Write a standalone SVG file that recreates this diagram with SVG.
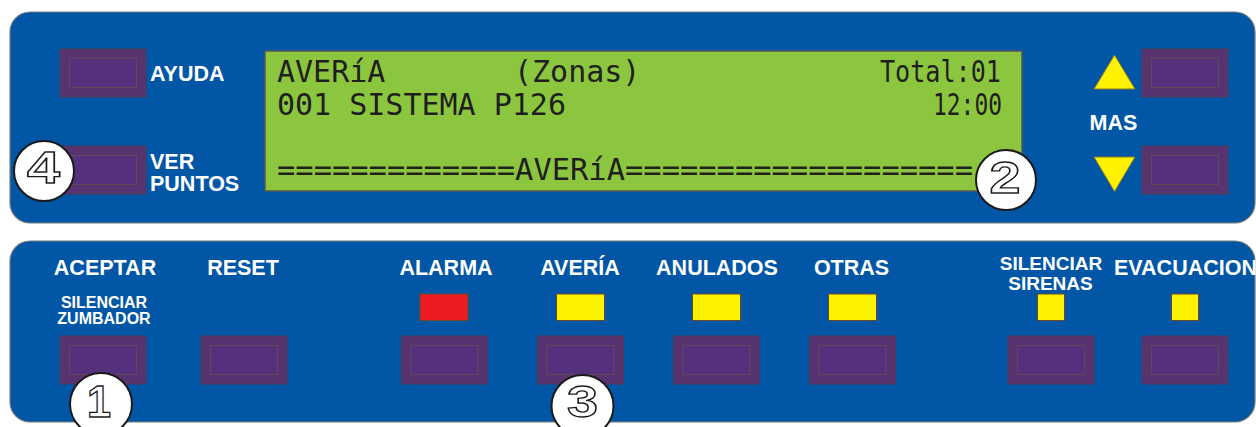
<svg xmlns="http://www.w3.org/2000/svg" width="1256" height="427" viewBox="0 0 1256 427">
<defs>
<style>
.panel{fill:#0156a6;stroke:#7a7a7a;stroke-width:1.2}
.bo{fill:#57346f;stroke:#4d3b55;stroke-width:1}
.bi{fill:#55307d;stroke:#5f4858;stroke-width:1}
.lbl{font-family:"Liberation Sans",Arial,sans-serif;font-weight:bold;fill:#ffffff;font-size:21.5px}
.sm{font-size:16px}
.md{font-size:19px}
.lcd{font-family:"DejaVu Sans Mono","Liberation Mono",monospace;font-size:30px;fill:#1f1f1f}
.led{stroke:#6b4a2a;stroke-width:1}
.y{fill:#fff200}
.r{fill:#ed1c24}
.tri{fill:#fff200;stroke:#8a7a20;stroke-width:1}
.circ{fill:#ffffff;stroke:#1a1a1a;stroke-width:2}
.num{font-family:"Liberation Sans",Arial,sans-serif;font-weight:bold;font-size:44px;fill:#ffffff;stroke:#1a1a1a;stroke-width:1.3;text-anchor:middle}
</style>
<g id="btn">
<rect class="bo" x="0" y="0" width="86" height="48"/>
<rect class="bi" x="9.5" y="9.5" width="67" height="29"/>
</g>
</defs>
<g id="top-panel">
<rect class="panel" x="10" y="12" width="1245" height="211" rx="20" ry="20"/>
</g>
<g id="bottom-panel">
<rect class="panel" x="10" y="241" width="1245" height="181" rx="20" ry="20"/>
</g>
<g id="lcd">
<rect x="265" y="51" width="757" height="140" fill="#8cc63f" stroke="#555555" stroke-width="1.5"/>
<text class="lcd" x="277" y="81.5">AVERíA</text>
<text class="lcd" x="514" y="81.5">(Zonas)</text>
<text class="lcd" x="880" y="81.5" textLength="121" lengthAdjust="spacingAndGlyphs">Total:01</text>
<text class="lcd" x="277" y="115">001 SISTEMA P126</text>
<text class="lcd" x="933" y="115" textLength="69" lengthAdjust="spacingAndGlyphs">12:00</text>
<text class="lcd" x="277" y="180" textLength="696" lengthAdjust="spacingAndGlyphs">=============AVERíA===================</text>
</g>
<g id="btn-ayuda">
<use href="#btn" x="60" y="49"/>
<text class="lbl" x="150" y="81">AYUDA</text>
</g>
<g id="btn-ver-puntos">
<use href="#btn" x="60" y="146"/>
<text class="lbl" x="150" y="169">VER</text>
<text class="lbl" x="150" y="191">PUNTOS</text>
</g>
<g id="btn-mas">
<polygon class="tri" points="1114.5,55 1135,89 1094,89"/>
<polygon class="tri" points="1094,157 1135,157 1114.5,191.5"/>
<use href="#btn" x="1142" y="49"/>
<use href="#btn" x="1142" y="146"/>
<text class="lbl" x="1113.5" y="130" text-anchor="middle">MAS</text>
</g>
<g id="btn-aceptar">
<text class="lbl" x="105" y="275" text-anchor="middle">ACEPTAR</text>
<text class="lbl sm" x="104" y="307.5" text-anchor="middle">SILENCIAR</text>
<text class="lbl sm" x="104" y="323.5" text-anchor="middle">ZUMBADOR</text>
<use href="#btn" x="60" y="336"/>
</g>
<g id="btn-reset">
<text class="lbl" x="243" y="275" text-anchor="middle">RESET</text>
<use href="#btn" x="201" y="336"/>
</g>
<g id="btn-alarma">
<text class="lbl" x="446" y="275" text-anchor="middle">ALARMA</text>
<rect class="led r" x="420" y="294" width="48" height="26.5"/>
<use href="#btn" x="401.5" y="336"/>
</g>
<g id="btn-averia">
<text class="lbl" x="580" y="275" text-anchor="middle">AVERÍA</text>
<rect class="led y" x="556.5" y="294" width="48" height="26.5"/>
<use href="#btn" x="537.5" y="336"/>
</g>
<g id="btn-anulados">
<text class="lbl" x="717" y="275" text-anchor="middle">ANULADOS</text>
<rect class="led y" x="692.5" y="294" width="48" height="26.5"/>
<use href="#btn" x="673.5" y="336"/>
</g>
<g id="btn-otras">
<text class="lbl" x="851.5" y="275" text-anchor="middle">OTRAS</text>
<rect class="led y" x="828.5" y="294" width="48" height="26.5"/>
<use href="#btn" x="809.5" y="336"/>
</g>
<g id="btn-silenciar-sirenas">
<text class="lbl md" x="1051" y="269.5" text-anchor="middle">SILENCIAR</text>
<text class="lbl md" x="1050.5" y="289.5" text-anchor="middle">SIRENAS</text>
<rect class="led y" x="1037.5" y="294" width="27" height="26.5"/>
<use href="#btn" x="1008" y="336"/>
</g>
<g id="btn-evacuacion">
<text class="lbl" x="1114" y="275">EVACUACION</text>
<rect class="led y" x="1171.5" y="294" width="27" height="26.5"/>
<use href="#btn" x="1142" y="336"/>
</g>
<g id="callouts">
<g id="callout-1"><circle class="circ" cx="101" cy="404" r="31"/><text class="num" x="99" y="417" textLength="24" lengthAdjust="spacingAndGlyphs">1</text></g>
<g id="callout-2"><circle class="circ" cx="1006" cy="180" r="30"/><text class="num" x="1005" y="193" textLength="31" lengthAdjust="spacingAndGlyphs">2</text></g>
<g id="callout-3"><circle class="circ" cx="582.5" cy="406" r="31"/><text class="num" x="582.5" y="417" textLength="31" lengthAdjust="spacingAndGlyphs">3</text></g>
<g id="callout-4"><circle class="circ" cx="44" cy="171" r="30"/><text class="num" x="43.5" y="182.5" textLength="33" lengthAdjust="spacingAndGlyphs">4</text></g>
</g>
</svg>
